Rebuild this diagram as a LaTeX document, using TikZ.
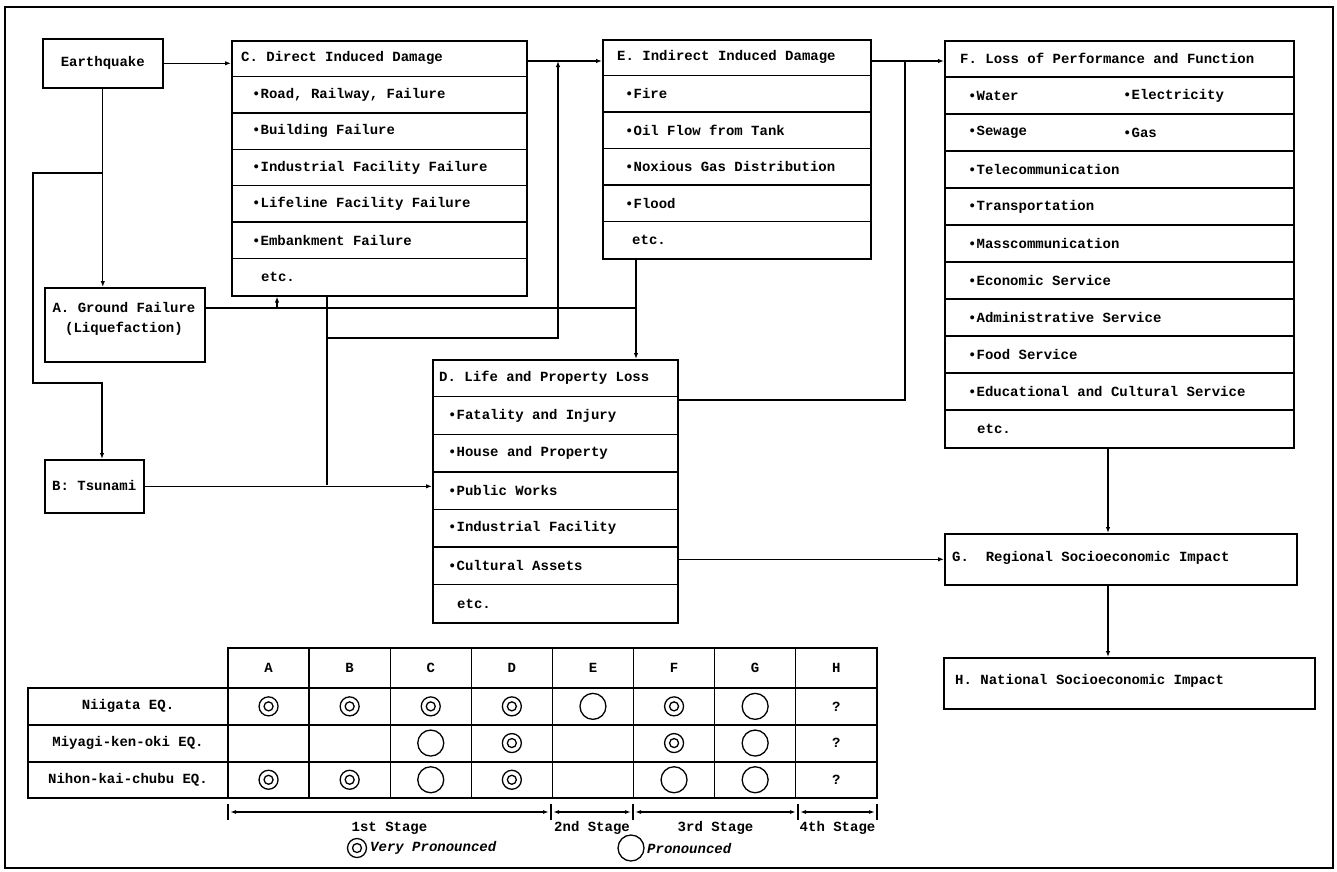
\documentclass[tikz,border=0pt]{standalone}
\usepackage{fontspec}
\newfontfamily\monofont{Liberation Mono}
\usetikzlibrary{arrows.meta,calc}
\newcommand\lab{\monofont\bfseries\fontsize{14}{16}\selectfont}

\tikzset{
  box/.style={draw, line width=1.6pt, inner sep=0pt, anchor=north west},
  rowline/.style={line width=1.4pt},
  txt/.style={anchor=west, inner sep=0pt, font=\lab},
  link/.style={line width=1.3pt},
  arr/.style={link, -{Latex[length=6pt,width=4.5pt]}},
  dim/.style={line width=1.2pt, {Latex[length=6pt,width=4pt]}-{Latex[length=6pt,width=4pt]}},
  vp/.style={circle, draw, line width=1.3pt, minimum size=19pt, inner sep=0pt,
    path picture={\draw[line width=1.3pt] (path picture bounding box.center) circle (4.5pt);}},
  pr/.style={circle, draw, line width=1.3pt, minimum size=26pt, inner sep=0pt},
}

% boite a lignes : nom, x, y, largeur, hauteur de ligne, nombre de lignes
\newcommand\listbox[6]{%
  \node[box, minimum width=#4pt, minimum height=#5*#6pt] (#1) at (#2,#3) {};
  \foreach \i in {2,...,#6}
    \draw[rowline] ($(#1.north west)+(0,{#5*(\i-1)})$) -- ($(#1.north east)+(0,{#5*(\i-1)})$);
}

\begin{document}
\begin{tikzpicture}[x=1pt,y=-1pt]
\useasboundingbox (0,0) rectangle (1337,871);
% cadre
\draw[line width=1.5pt] (5,7) rectangle (1333,868);

% boites simples
\node[box, font=\lab, minimum width=120pt, minimum height=49pt] (EQ) at (42,38) {Earthquake};
\node[box, minimum width=160pt, minimum height=74pt] (A) at (44,287) {};
\node[txt, anchor=center, align=center] (At) at (124,319) {A. Ground Failure\\[4pt](Liquefaction)};
\node[box, minimum width=99pt, minimum height=53pt] (B) at (44,459) {};
\node[txt] (Bt) at (52,485) {B: Tsunami};
\node[box, minimum width=352pt, minimum height=51pt] (G) at (944,533) {};
\node[txt] (Gt) at (952,558) {G.~~Regional Socioeconomic Impact};
\node[box, minimum width=371pt, minimum height=51pt] (H) at (943,657) {};
\node[txt] (Ht) at (955,681) {H. National Socioeconomic Impact};

% boites a lignes
\listbox{C}{231}{40}{295}{36.43}{7}
\node[txt] (C0) at ($(C.north west)+(10,18)$) {C. Direct Induced Damage};
\foreach \t [count=\i] in {{•Road, Railway, Failure},•Building Failure,•Industrial Facility Failure,•Lifeline Facility Failure,•Embankment Failure}
  \node[txt] (C\i) at ($(C.north west)+(21,{36.43*(\i+0.5)})$) {\t};
\node[txt] (C6) at ($(C.north west)+(30,{36.43*6.5})$) {etc.};

\listbox{E}{602}{39}{268}{36.5}{6}
\node[txt] (E0) at ($(E.north west)+(15,18)$) {E. Indirect Induced Damage};
\foreach \t [count=\i] in {•Fire,•Oil Flow from Tank,•Noxious Gas Distribution,•Flood}
  \node[txt] (E\i) at ($(E.north west)+(23,{36.5*(\i+0.5)})$) {\t};
\node[txt] (E5) at ($(E.north west)+(30,{36.5*5.5})$) {etc.};

\listbox{F}{944}{40}{349}{37}{11}
\node[txt] (F0) at ($(F.north west)+(16,18)$) {F. Loss of Performance and Function};
\foreach \t [count=\i] in {•Water,•Sewage,•Telecommunication,•Transportation,•Masscommunication,•Economic Service,•Administrative Service,•Food Service,•Educational and Cultural Service}
  \node[txt] (F\i) at ($(F.north west)+(24,{37*(\i+0.5)})$) {\t};
\node[txt] (F1b) at ($(F.north west)+(179,{37*1.5})$) {•Electricity};
\node[txt] (F2b) at ($(F.north west)+(179,{37*2.5})$) {•Gas};
\node[txt] (F10) at ($(F.north west)+(33,{37*10.5})$) {etc.};

\listbox{D}{432}{359}{245}{37.6}{7}
\node[txt] (D0) at ($(D.north west)+(7,19)$) {D. Life and Property Loss};
\foreach \t [count=\i] in {•Fatality and Injury,•House and Property,•Public Works,•Industrial Facility,•Cultural Assets}
  \node[txt] (D\i) at ($(D.north west)+(16,{37.6*(\i+0.5)})$) {\t};
\node[txt] (D6) at ($(D.north west)+(25,{37.6*6.5})$) {etc.};

% liaisons
\coordinate (topline) at (0,61);
\draw[arr] (EQ.east) -- (EQ.east -| C.west);
\draw[arr] (C.east |- topline) -- (E.west |- topline);
\draw[arr] (E.east |- topline) -- (F.west |- topline);
\draw[arr] (EQ.south) -- (EQ.south |- A.north);
\coordinate (k0) at (102,173);
\coordinate (k1) at (33,173);
\coordinate (k2) at (33,383);
\coordinate (k3) at (102,383);
\draw[arr] (k0) -- (k1) -- (k2) -- (k3) -- (k3 |- B.north);
\coordinate (ga) at (204,308);
\coordinate (gb) at (636,308);
\coordinate (gc) at (277,308);
\draw[link] (ga) -- (gb);
\draw[arr] (gc) -- (gc |- C.south);
\draw[arr] (gb |- E.south) -- (gb |- D.north);
\coordinate (bd) at (327,485);
\draw[link] (bd |- C.south) -- (bd);
\draw[arr] (B.east) -- (B.east -| D.west);
\coordinate (bj) at (327,338);
\coordinate (ej) at (558,338);
\draw[arr] (bj) -- (ej) -- (ej |- topline);
\coordinate (df) at (905,400);
\draw[link] (D.east |- df) -- (df) -- (df |- topline);
\coordinate (fg) at (1108,0);
\draw[arr] (fg |- F.south) -- (fg |- G.north);
\draw[arr] (fg |- G.south) -- (fg |- H.north);
\draw[arr] (D.east |- G.west) -- (G.west);

% tableau
\def\cw{81.1}
\draw[line width=1.5pt] (228,648) rectangle (877,798);
\draw[line width=1.5pt] (28,688) rectangle (228,798);
\foreach \y in {688,725,762} \draw[rowline] (28,\y) -- (877,\y);
\foreach \i in {1,...,7} \draw[rowline] ({228+\cw*\i},648) -- ({228+\cw*\i},798);
\foreach \l [count=\i] in {A,...,H}
  \node[txt, anchor=center] (h\l) at ({228+\cw*(\i-0.5)},668) {\l};
\foreach \t [count=\r] in {Niigata EQ.,Miyagi-ken-oki EQ.,Nihon-kai-chubu EQ.}
  \node[txt, anchor=center] (r\r) at (128,{688+36.7*(\r-0.5)}) {\t};
\foreach \r/\c/\m in {1/1/vp,1/2/vp,1/3/vp,1/4/vp,1/5/pr,1/6/vp,1/7/pr,
    2/3/pr,2/4/vp,2/6/vp,2/7/pr,3/1/vp,3/2/vp,3/3/pr,3/4/vp,3/6/pr,3/7/pr}
  \node[\m] (m\r\c) at ({228+\cw*(\c-0.5)},{688+36.7*(\r-0.5)}) {};
\foreach \r in {1,2,3}
  \node[txt, anchor=center] (q\r) at ({228+\cw*7.5},{688+36.7*(\r-0.5)}) {?};

% etapes
\foreach \x in {228,551,633,798,877} \draw[link] (\x,804) -- (\x,820);
\foreach \a/\b/\t [count=\i] in {228/551/1st Stage,551/633/2nd Stage,633/798/3rd Stage,798/877/4th Stage} {
  \draw[dim] (\a+2,812) -- (\b-2,812);
  \node[txt, anchor=center] (st\i) at ({(\a+\b)/2},828) {\t};
}

% legende
\node[vp] (kvp) at (357,848) {};
\node[txt, font=\lab\itshape] (kvpt) at (370,848) {Very Pronounced};
\node[pr] (kpr) at (631,848) {};
\node[txt, font=\lab\itshape] (kprt) at (647,848) {Pronounced};
\end{tikzpicture}
\end{document}
